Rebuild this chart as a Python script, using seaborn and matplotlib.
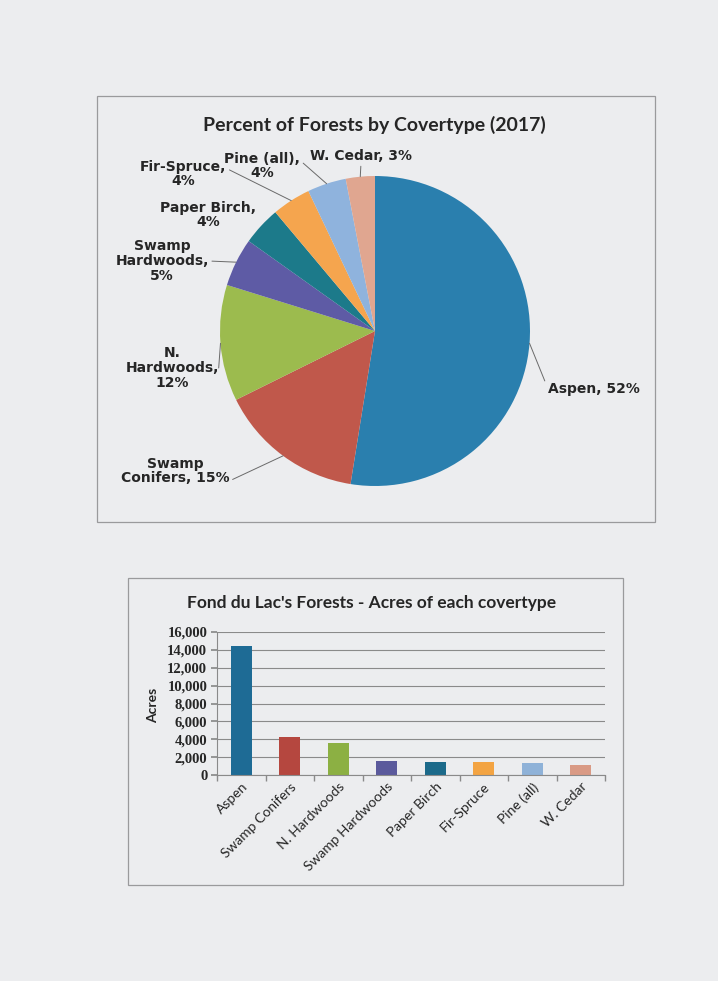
import numpy as np
import pandas as pd
import seaborn as sns
import matplotlib.pyplot as plt
from matplotlib.patches import Rectangle
from matplotlib.ticker import FuncFormatter

# pie chart data (percent of forests)
pie_labels = ["Aspen", "Swamp Conifers", "N. Hardwoods", "Swamp Hardwoods",
              "Paper Birch", "Fir-Spruce", "Pine (all)", "W. Cedar"]
pie_pct = [52, 15, 12, 5, 4, 4, 4, 3]
pie_text = ["Aspen, 52%", "Swamp\nConifers, 15%", "N.\nHardwoods,\n12%",
            "Swamp\nHardwoods,\n5%", "Paper Birch,\n4%", "Fir-Spruce,\n4%",
            "Pine (all),\n4%", "W. Cedar, 3%"]

# bar chart data (acres)
bar_categories = ["Aspen", "Swamp Conifers", "N. Hardwoods", "Swamp Hardwoods",
                  "Paper Birch", "Fir-Spruce", "Pine (all)", "W. Cedar"]
acres = [14400, 4250, 3550, 1550, 1450, 1450, 1350, 1150]
y_ticks = [0, 2000, 4000, 6000, 8000, 10000, 12000, 14000, 16000]

pie_colors = ["#2a7fae", "#c0584b", "#9cbb4e", "#5e5ba5",
              "#1c7a8a", "#f5a54e", "#8fb3dd", "#e0a690"]
bar_colors = ["#1e6b95", "#b5473f", "#8cb043", "#5b5a9c",
              "#1c6a8a", "#f3a443", "#8fb2d8", "#d99a85"]

W, H = 718, 981


def px_box(x0, y0, x1, y1):
    # image pixel box -> figure fraction [left, bottom, width, height]
    return [x0 / W, 1 - y1 / H, (x1 - x0) / W, (y1 - y0) / H]


def px(x, y):
    return (x / W, 1 - y / H)


sns.set_theme(style="white")
plt.rcParams["font.family"] = ["DejaVu Sans"]

fig = plt.figure(figsize=(W / 100, H / 100), dpi=100, facecolor="#ecedef")

# chart frames
for x0, y0, x1, y1 in [(97, 96, 655, 522), (128, 578, 623, 885)]:
    fig.add_artist(Rectangle((x0 / W, 1 - y1 / H), (x1 - x0) / W, (y1 - y0) / H,
                             transform=fig.transFigure, fill=False,
                             edgecolor="#9a9a9c", lw=0.9))

# ---- pie chart ----
ax1 = fig.add_axes(px_box(220, 176, 530, 486))
wedges, _ = ax1.pie(pie_pct, colors=pie_colors, startangle=90, counterclock=False,
                    wedgeprops=dict(linewidth=0))
ax1.set_xlim(-1, 1)
ax1.set_ylim(-1, 1)
ax1.set_aspect("equal")

fig.text(*px(374, 125), "Percent of Forests by Covertype (2017)", ha="center",
         va="center", fontsize=14, fontweight="bold", family="Lato", color="#262626")

label_pos = [(594, 389), (175, 471), (172, 368), (162, 261),
             (208, 215), (183, 174), (262, 166), (361, 156)]
rel = [(0, 0.5), (1, 0.15), (1, 0.5), (1, 0.5), None, (1, 0.7), (1, 0.7), (0.5, 0)]

for w, txt, pos, rp in zip(wedges, pie_text, label_pos, rel):
    ang = np.deg2rad((w.theta1 + w.theta2) / 2)
    xy = (np.cos(ang), np.sin(ang))
    arrow = None
    if rp is not None:
        arrow = dict(arrowstyle="-", color="#6a6a6a", lw=0.7, relpos=rp,
                     shrinkA=0, shrinkB=0)
    ax1.annotate(txt, xy=xy, xytext=px(*pos), textcoords="figure fraction",
                 ha="center", va="center", multialignment="center",
                 fontsize=10, fontweight="bold", color="#262626",
                 linespacing=1.05, arrowprops=arrow, annotation_clip=False)

# ---- bar chart ----
ax2 = fig.add_axes(px_box(217, 632, 605, 775))
ax2.set_facecolor("none")
df = pd.DataFrame({"covertype": bar_categories, "acres": acres})
sns.barplot(data=df, x="covertype", y="acres", hue="covertype", palette=bar_colors,
            legend=False, width=0.43, saturation=1, linewidth=0, ax=ax2)

ax2.set_ylim(0, 16000)
ax2.set_xlim(-0.5, len(bar_categories) - 0.5)
ax2.set_yticks(y_ticks)
ax2.yaxis.set_major_formatter(FuncFormatter(lambda v, p: f"{v:,.0f}"))
ax2.yaxis.grid(True, color="#8a8a8a", lw=0.8)
ax2.set_axisbelow(True)
for s in ["top", "right"]:
    ax2.spines[s].set_visible(False)
for s in ["left", "bottom"]:
    ax2.spines[s].set_color("#8a8a8a")
    ax2.spines[s].set_linewidth(0.8)

ax2.tick_params(axis="y", left=True, length=4, color="#8a8a8a", pad=3)
ax2.set_xticks(np.arange(-0.5, len(bar_categories)), minor=True)
ax2.tick_params(axis="x", which="minor", bottom=True, length=4, color="#8a8a8a")
ax2.tick_params(axis="x", which="major", length=0, pad=4)

for t in ax2.get_yticklabels():
    t.set_family("Liberation Serif")
    t.set_fontweight("bold")
    t.set_fontsize(10.5)
    t.set_color("#262626")
ax2.set_xticklabels(bar_categories, rotation=45, ha="right", rotation_mode="anchor",
                    family="Lato", fontsize=10, color="#262626")

ax2.set_xlabel("")
ax2.set_ylabel("")
fig.text(*px(153, 705), "Acres", rotation=90, ha="center", va="center",
         fontsize=10, fontweight="bold", family="Lato", color="#262626")
fig.text(*px(372, 603), "Fond du Lac's Forests - Acres of each covertype",
         ha="center", va="center", fontsize=12.5, fontweight="bold", family="Lato",
         color="#262626")

fig.savefig("out.png", dpi=100, facecolor=fig.get_facecolor())
